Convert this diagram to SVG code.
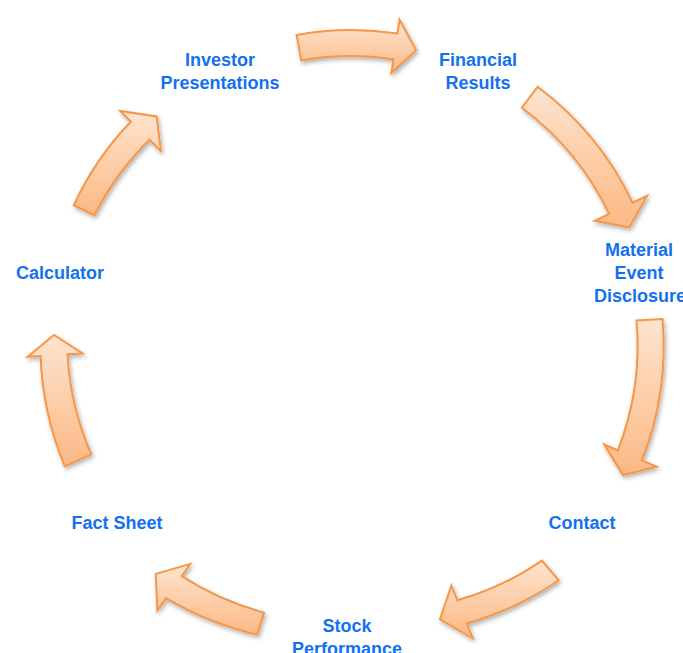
<svg xmlns="http://www.w3.org/2000/svg" width="683" height="653" viewBox="0 0 683 653">
  <defs>
    <linearGradient id="fillGrad" x1="0" y1="0" x2="0" y2="1">
      <stop offset="0" stop-color="#fee4cf"/>
      <stop offset="1" stop-color="#fbb985"/>
    </linearGradient>
    <filter id="shadow" x="-20%" y="-20%" width="140%" height="140%">
      <feDropShadow dx="1.5" dy="2.5" stdDeviation="2" flood-color="#000" flood-opacity="0.3"/>
    </filter>
    <style>
      .arrow { fill: url(#fillGrad); stroke: #f79646; stroke-width: 2; stroke-linejoin: miter; filter: url(#shadow); }
      .label { font-family: "Liberation Sans", Arial, sans-serif; font-weight: bold; font-size: 18px; fill: #1470f2; text-anchor: middle; }
    </style>
  </defs>
  <rect width="683" height="653" fill="#ffffff"/>

  <g id="connectors">
    <path class="arrow" d="M296.6,34.9 A307,307 0 0 1 397.4,33.5 L399.6,19.7 L416.1,50.3 L391.4,73.1 L393.5,59.2 A281,281 0 0 0 301.2,60.4 Z"/>
    <path class="arrow" d="M537.5,86.8 A312,312 0 0 1 632.6,202.7 L647.1,195.8 L629.2,227.4 L594.7,220.8 L609.1,213.9 A286,286 0 0 0 521.9,107.7 Z"/>
    <path class="arrow" d="M662.5,319.0 A312,312 0 0 1 641.9,460.5 L656.6,466.7 L623.0,475.0 L604.1,444.4 L617.9,450.3 A288,288 0 0 0 636.5,320.5 Z"/>
    <path class="arrow" d="M558.8,580.3 A315,315 0 0 1 466.8,623.5 L472.7,638.3 L440.0,619.3 L451.4,585.5 L457.4,600.3 A289,289 0 0 0 541.9,560.6 Z"/>
    <path class="arrow" d="M257.2,634.6 A316,316 0 0 1 166.1,598.2 L157.4,610.4 L155.7,573.9 L190.3,563.9 L181.7,576.1 A291,291 0 0 0 264.1,612.6 Z"/>
    <path class="arrow" d="M64.8,466.2 A312,312 0 0 1 40.6,356.0 L27.6,356.8 L54.0,334.9 L82.5,353.4 L67.5,354.3 A285,285 0 0 0 91.3,454.3 Z"/>
    <path class="arrow" d="M73.7,205.3 A307,307 0 0 1 130.9,121.5 L120.2,111.0 L156.6,116.5 L160.9,150.9 L149.5,139.7 A283,283 0 0 0 94.5,215.2 Z"/>
  </g>

  <g id="node-investor-presentations">
    <text class="label" x="220" y="66">Investor</text>
    <text class="label" x="220" y="89">Presentations</text>
  </g>
  <g id="node-financial-results">
    <text class="label" x="478" y="66">Financial</text>
    <text class="label" x="478" y="89">Results</text>
  </g>
  <g id="node-material-event-disclosure">
    <text class="label" x="639" y="256">Material</text>
    <text class="label" x="639" y="279">Event</text>
    <text class="label" x="640" y="302">Disclosure</text>
  </g>
  <g id="node-contact">
    <text class="label" x="582" y="529">Contact</text>
  </g>
  <g id="node-stock-performance">
    <text class="label" x="347" y="632">Stock</text>
    <text class="label" x="347" y="655">Performance</text>
  </g>
  <g id="node-fact-sheet">
    <text class="label" x="117" y="529">Fact Sheet</text>
  </g>
  <g id="node-calculator">
    <text class="label" x="60" y="279">Calculator</text>
  </g>
</svg>
